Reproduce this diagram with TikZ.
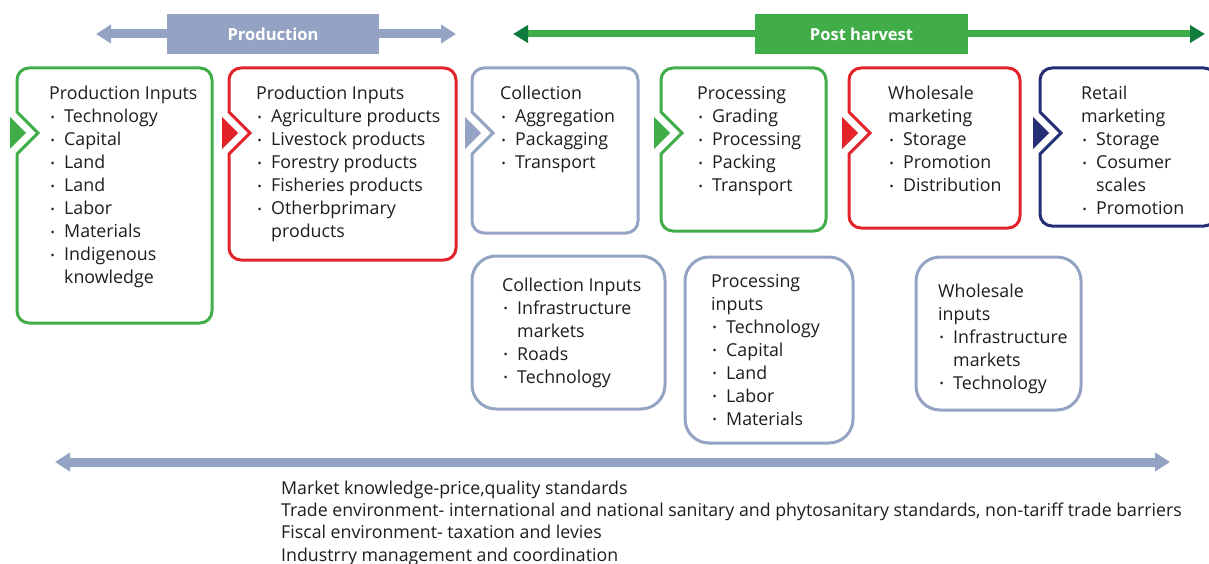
\documentclass[tikz,border=0pt]{standalone}
\usepackage{fontspec}
\setmainfont{Open Sans}
\usetikzlibrary{arrows.meta}

\definecolor{cgreen}{RGB}{65,173,73}
\definecolor{cred}{RGB}{226,35,42}
\definecolor{cgrey}{RGB}{148,163,195}
\definecolor{cnavy}{RGB}{38,47,117}
\definecolor{cdkgreen}{RGB}{16,124,60}
\definecolor{ink}{RGB}{30,28,28}

% small bullet and hanging indent for list lines
\newcommand\bul{\makebox[15pt][l]{\hspace{1.5pt}\raisebox{1.5pt}{\fontsize{11}{11}\selectfont\textbullet}}}
\newcommand\cont{\hspace*{15pt}}

% rounded box with a chevron notch on its left side and a filled pointer
% #1 colour, #2 left, #3 top, #4 right, #5 bottom
\newcommand\notchbox[5]{%
  \draw[#1, boxline] (#2,112) -- (#2,#3+12)
    arc[start angle=180, end angle=270, radius=12] -- (#4-12,#3)
    arc[start angle=270, end angle=360, radius=12] -- (#4,#5-12)
    arc[start angle=0, end angle=90, radius=12] -- (#2+12,#5)
    arc[start angle=90, end angle=180, radius=12] -- (#2,154)
    -- (#2+21,133) -- cycle;
  \fill[#1] (#2-7,117) -- (#2+9,133) -- (#2-7,149) -- cycle;
}

\tikzset{
  boxline/.style={line width=3pt, line join=miter},
  txt/.style={inner sep=0pt, anchor=base west, text=ink,
    font=\fontsize{17.8}{23}\selectfont},
  banner/.style={inner sep=0pt, minimum width=212pt, minimum height=40pt,
    text=white, font=\bfseries\fontsize{16.5}{18}\selectfont},
  greyarrow/.style={line width=9pt, cgrey,
    {Triangle[length=15pt,width=18pt]}-{Triangle[length=15pt,width=18pt]}},
  greenarrow/.style={line width=7pt, cgreen,
    {Triangle[length=15pt,width=17pt,color=cdkgreen]}-{Triangle[length=15pt,width=17pt,color=cdkgreen]}},
}

\begin{document}
\begin{tikzpicture}[x=1pt, y=-1pt]
\useasboundingbox (0,0) rectangle (1209,564);
\clip (0,0) rectangle (1209,564);

% stage banners
\coordinate (pa) at (96,34);
\coordinate (pb) at (456,34);
\draw[greyarrow] (pa) -- (pb);
\node[banner, fill=cgrey] (prod) at (273,34) {Production};

\coordinate (ha) at (513,34);
\coordinate (hb) at (1205,34);
\draw[greenarrow] (ha) -- (hb);
\node[banner, fill=cgreen, minimum width=213pt] (post) at (861.5,34) {Post harvest};

% chain stages
\notchbox{cgreen}{17}{68}{212}{323}
\notchbox{cred}{229}{68}{456}{260}
\notchbox{cgrey}{472}{68}{638}{233}
\notchbox{cgreen}{661}{68}{826}{231}
\notchbox{cred}{849}{68}{1020}{228}
\notchbox{cnavy}{1040}{68}{1216}{226}

\node[txt] (s1) at (49,100) {\parbox[t]{170pt}{Production Inputs\\
  \bul Technology\\ \bul Capital\\ \bul Land\\ \bul Land\\ \bul Labor\\
  \bul Materials\\ \bul Indigenous\\ \cont knowledge}};
\node[txt] (s2) at (256,100) {\parbox[t]{200pt}{Production Inputs\\
  \bul Agriculture products\\ \bul Livestock products\\ \bul Forestry products\\
  \bul Fisheries products\\ \bul Otherbprimary\\ \cont products}};
\node[txt] (s3) at (500,100) {\parbox[t]{140pt}{Collection\\
  \bul Aggregation\\ \bul Packagging\\ \bul Transport}};
\node[txt] (s4) at (697,100) {\parbox[t]{140pt}{Processing\\
  \bul Grading\\ \bul Processing\\ \bul Packing\\ \bul Transport}};
\node[txt] (s5) at (888,100) {\parbox[t]{140pt}{Wholesale\\ marketing\\
  \bul Storage\\ \bul Promotion\\ \bul Distribution}};
\node[txt] (s6) at (1081,100) {\parbox[t]{140pt}{Retail\\ marketing\\
  \bul Storage\\ \bul Cosumer\\ \cont scales\\ \bul Promotion}};

% stage inputs
\draw[cgrey, boxline, rounded corners=24pt] (472,256) rectangle (665,409);
\draw[cgrey, boxline, rounded corners=24pt] (685,257) rectangle (853,443);
\draw[cgrey, boxline, rounded corners=24pt] (916,257) rectangle (1081,410);

\node[txt] (i1) at (502,291) {\parbox[t]{160pt}{Collection Inputs\\
  \bul Infrastructure\\ \cont markets\\ \bul Roads\\ \bul Technology}};
\node[txt] (i2) at (711,287) {\parbox[t]{140pt}{Processing\\ inputs\\
  \bul Technology\\ \bul Capital\\ \bul Land\\ \bul Labor\\ \bul Materials}};
\node[txt] (i3) at (938,297) {\parbox[t]{140pt}{Wholesale\\ inputs\\
  \bul Infrastructure\\ \cont markets\\ \bul Technology}};

% enabling environment
\coordinate (ea) at (55,462);
\coordinate (eb) at (1170,462);
\draw[greyarrow] (ea) -- (eb);
\node[txt, font=\fontsize{17.75}{22.4}\selectfont] (env) at (281,494) {\parbox[t]{950pt}{%
  Market knowledge-price,quality standards\\
  Trade environment- international and national sanitary and phytosanitary standards, non-tariff trade barriers\\
  Fiscal environment- taxation and levies\\
  Industrry management and coordination}};
\end{tikzpicture}
\end{document}
